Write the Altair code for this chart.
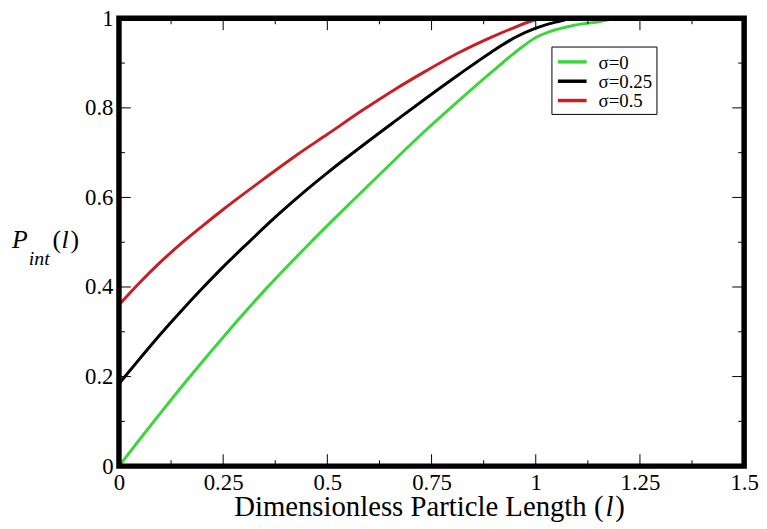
import altair as alt
import pandas as pd

# ---- data ----
series_labels = ["σ=0", "σ=0.25", "σ=0.5"]
series_colors = ["#3cd63c", "#000000", "#c81e24"]

l_sigma0 = [0, 0.05, 0.1, 0.165, 0.25, 0.345, 0.455, 0.56, 0.665, 0.736, 0.815,
            0.894, 0.973, 1.0, 1.03, 1.09, 1.155, 1.2, 1.5]
p_sigma0 = [0, 0.06, 0.119, 0.194, 0.288, 0.388, 0.495, 0.592, 0.687, 0.75, 0.816,
            0.88, 0.940, 0.957, 0.969, 0.984, 0.993, 1.0, 1.0]

l_sigma025 = [0, 0.05, 0.1, 0.15, 0.2, 0.25, 0.3, 0.375, 0.45, 0.5, 0.565, 0.665,
              0.736, 0.815, 0.894, 0.95, 1.0, 1.05, 1.1, 1.5]
p_sigma025 = [0.184, 0.24, 0.295, 0.347, 0.397, 0.445, 0.490, 0.556, 0.617, 0.655,
              0.702, 0.772, 0.821, 0.874, 0.925, 0.957, 0.978, 0.992, 1.0, 1.0]

l_sigma05 = [0, 0.05, 0.1, 0.153, 0.2, 0.25, 0.288, 0.35, 0.43, 0.5, 0.585, 0.66,
             0.736, 0.815, 0.894, 0.95, 0.99, 1.02, 1.5]
p_sigma05 = [0.360, 0.410, 0.456, 0.500, 0.536, 0.573, 0.600, 0.643, 0.697, 0.741,
             0.795, 0.840, 0.882, 0.923, 0.958, 0.980, 0.994, 1.0, 1.0]

x_major = [0.25, 0.5, 0.75, 1.0, 1.25]
x_minor = [0.125, 0.375, 0.625, 0.875, 1.125, 1.375]
y_major = [0.2, 0.4, 0.6, 0.8]
y_minor = [0.1, 0.3, 0.5, 0.7, 0.9]
x_labels = [0, 0.25, 0.5, 0.75, 1.0, 1.25, 1.5]
y_labels = [0, 0.2, 0.4, 0.6, 0.8, 1.0]

# ---- build tables ----
rows = []
for lab, xs, ys in zip(series_labels, [l_sigma0, l_sigma025, l_sigma05],
                       [p_sigma0, p_sigma025, p_sigma05]):
    for a, b in zip(xs, ys):
        rows.append({"series": lab, "l": a, "P": b})
df = pd.DataFrame(rows)

W, H = 631, 452
FONT = "Liberation Serif"

xscale = alt.Scale(domain=[0, 1.5], nice=False, zero=False)
yscale = alt.Scale(domain=[0, 1], nice=False, zero=False)
cscale = alt.Scale(domain=series_labels, range=series_colors)

x_axis = alt.Axis(values=x_labels, format=".3~g", title=None, grid=False, domain=False,
                  ticks=False, tickSize=0, labelFont=FONT, labelFontSize=23,
                  labelColor="black", labelPadding=6, labelFlush=False)
y_axis = alt.Axis(values=y_labels, format=".3~g", title=None, grid=False, domain=False,
                  ticks=False, tickSize=0, labelFont=FONT, labelFontSize=23,
                  labelColor="black", labelPadding=6, labelFlush=False)

lines = alt.Chart(df).mark_line(strokeWidth=3, clip=True, interpolate="monotone").encode(
    x=alt.X("l:Q", scale=xscale, axis=x_axis),
    y=alt.Y("P:Q", scale=yscale, axis=y_axis),
    color=alt.Color("series:N", scale=cscale, legend=None),
    order=alt.Order("l:Q"),
)

layers = [lines]


def xticks(vals, length):
    d = pd.DataFrame({"l": vals})
    base = alt.Chart(d).mark_rule(color="black", strokeWidth=1)
    bot = base.encode(x=alt.X("l:Q", scale=xscale, axis=x_axis),
                      y=alt.value(H), y2=alt.value(H - length))
    top = base.encode(x=alt.X("l:Q", scale=xscale, axis=x_axis),
                      y=alt.value(0), y2=alt.value(length))
    return [bot, top]


def yticks(vals, length):
    d = pd.DataFrame({"P": vals})
    base = alt.Chart(d).mark_rule(color="black", strokeWidth=1)
    left = base.encode(y=alt.Y("P:Q", scale=yscale, axis=y_axis),
                       x=alt.value(0), x2=alt.value(length))
    right = base.encode(y=alt.Y("P:Q", scale=yscale, axis=y_axis),
                        x=alt.value(W), x2=alt.value(W - length))
    return [left, right]


layers += xticks(x_major, 12) + xticks(x_minor, 6)
layers += yticks(y_major, 12) + yticks(y_minor, 6)

# frame
frame = alt.Chart(pd.DataFrame({"a": [0]})).mark_rect(
    fillOpacity=0, stroke="black", strokeWidth=5.5
).encode(x=alt.value(0), x2=alt.value(W), y=alt.value(0), y2=alt.value(H))
layers.append(frame)

# legend
leg = pd.DataFrame({"series": series_labels,
                    "ly": [44 + 19.5 * i for i in range(len(series_labels))]})
leg_box = alt.Chart(pd.DataFrame({"a": [0]})).mark_rect(
    fill="white", stroke="black", strokeWidth=1
).encode(x=alt.value(437), x2=alt.value(543), y=alt.value(29), y2=alt.value(97))
leg_lines = alt.Chart(leg).mark_rule(strokeWidth=3.5).encode(
    x=alt.value(443), x2=alt.value(472),
    y=alt.Y("ly:Q", scale=None),
    color=alt.Color("series:N", scale=cscale, legend=None),
)
leg_text = alt.Chart(leg).mark_text(
    align="left", baseline="middle", font=FONT, fontSize=19, color="black", dy=1
).encode(x=alt.value(484), y=alt.Y("ly:Q", scale=None), text="series:N")
layers += [leg_box, leg_lines, leg_text]

# axis titles as text marks (italic pieces)
one = pd.DataFrame({"a": [0]})


def txt(s, x, y, size, italic=False, align="left"):
    return alt.Chart(one).mark_text(
        text=s, align=align, baseline="alphabetic", font=FONT, fontSize=size,
        fontStyle="italic" if italic else "normal", color="black"
    ).encode(x=alt.value(x), y=alt.value(y))


XT_END = 489
XT_Y = 502
layers += [
    txt("Dimensionless Particle Length (", XT_END, XT_Y, 29, align="right"),
    txt("l", XT_END + 2, XT_Y, 29, italic=True),
    txt(")", XT_END + 12, XT_Y, 29),
]
YT_Y = 232
layers += [
    txt("P", -108, YT_Y, 26, italic=True),
    txt("int", -91, YT_Y + 17, 20, italic=True),
    txt("(", -67, YT_Y, 26),
    txt("l", -58, YT_Y, 26, italic=True),
    txt(")", -49, YT_Y, 26),
]

chart = alt.layer(*layers).properties(
    width=W, height=H,
    autosize=alt.AutoSizeParams(type="none"),
    padding={"left": 112, "top": 8, "right": 15, "bottom": 55},
    background="white",
).configure_view(stroke=None)

chart.save("out.html", embed_options={"renderer": "svg", "actions": False})
